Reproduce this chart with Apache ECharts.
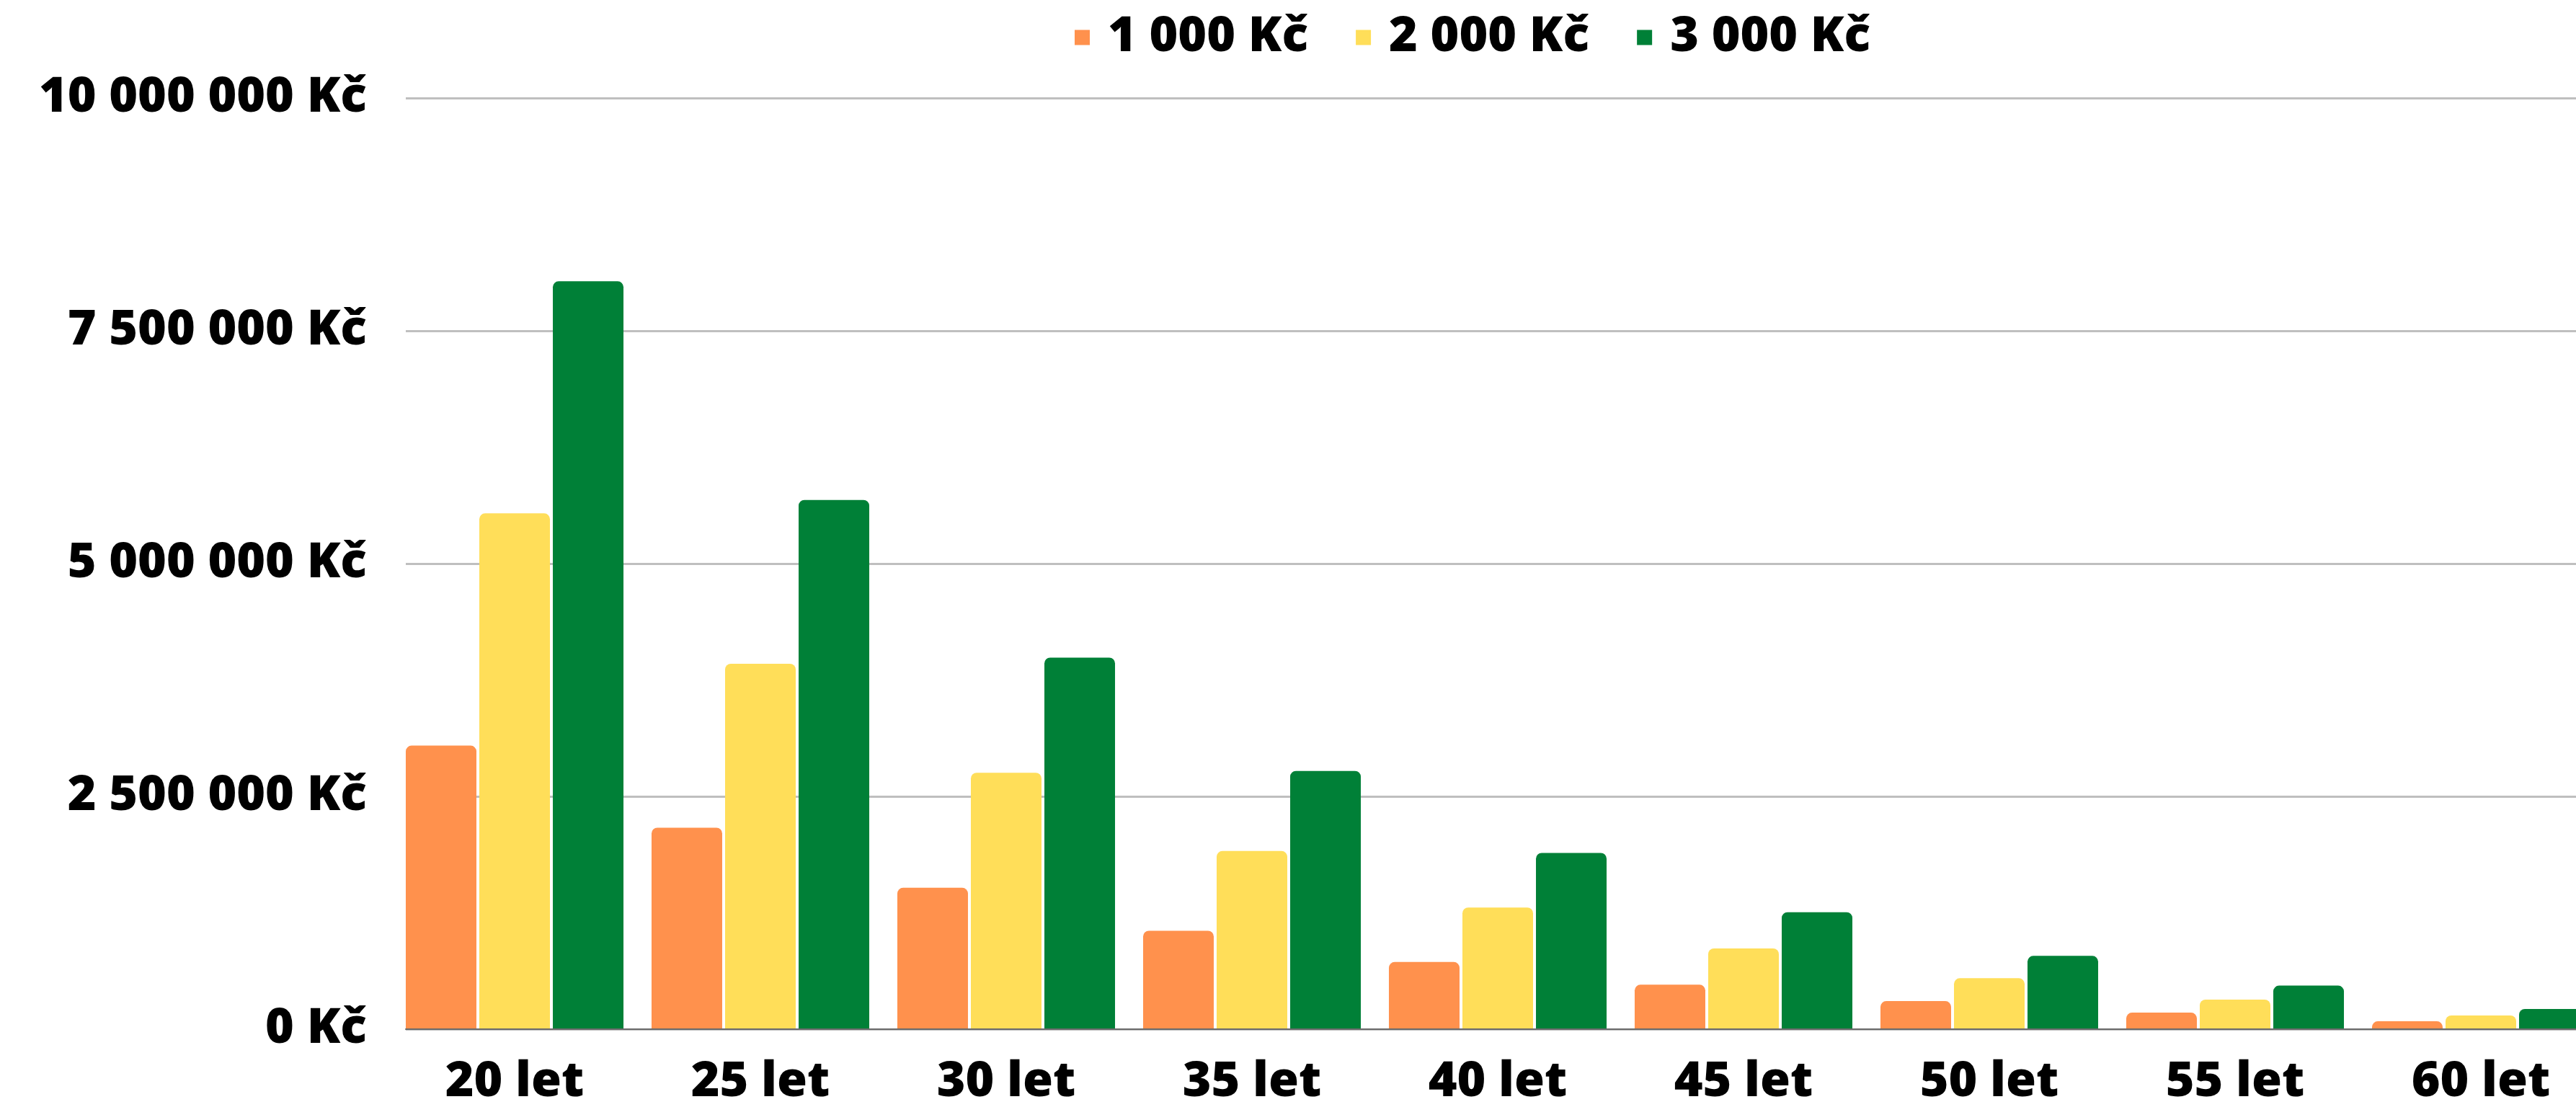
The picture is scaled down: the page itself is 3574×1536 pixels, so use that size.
<!DOCTYPE html>
<html>
<head>
<meta charset="utf-8">
<script src="https://cdn.jsdelivr.net/npm/echarts@6/dist/echarts.min.js"></script>
<style>
html,body{margin:0;padding:0;background:#fff;overflow:hidden;}
#chart{width:3700px;height:1536px;}
</style>
</head>
<body>
<div id="chart"></div>
<script>
var categories = ['20 let','25 let','30 let','35 let','40 let','45 let','50 let','55 let','60 let'];
var seriesNames = ['1 000 Kč','2 000 Kč','3 000 Kč'];
var values1000 = [3040000, 2157000, 1512000, 1050000, 714000, 470000, 294000, 170000, 77000];
var values2000 = [5536000, 3920000, 2748000, 1907000, 1300000, 860000, 540000, 310000, 140000];
var values3000 = [8030000, 5680000, 3986000, 2768000, 1886000, 1250000, 780000, 460000, 210000];
var yMin = 0, yMax = 10000000, yInterval = 2500000;

var colors = ['#FF914D','#FFDE59','#008037'];
var FONT = '"Open Sans", "DejaVu Sans", sans-serif';
var FS = 68;

function fmt(v){
  return String(v).replace(/\B(?=(\d{3})+(?!\d))/g, ' ') + ' Kč';
}

var chart = echarts.init(document.getElementById('chart'), null, {renderer:'canvas'});
var dataSets = [values1000, values2000, values3000];
var series = dataSets.map(function(d, i){
  return {
    name: seriesNames[i],
    type: 'bar',
    xAxisIndex: 0,
    yAxisIndex: 0,
    data: d,
    barWidth: 98,
    barGap: '4.1%',
    itemStyle: {color: colors[i], borderRadius: [8,8,0,0]},
    emphasis: {disabled: true},
    z: 3
  };
});

chart.setOption({
  animation: false,
  backgroundColor: '#ffffff',
  color: colors,
  legend: {
    data: seriesNames,
    left: 1491,
    top: 18,
    padding: 0,
    icon: 'rect',
    itemWidth: 21,
    itemHeight: 21,
    itemGap: 66,
    selectedMode: false,
    textStyle: {
      fontFamily: FONT, fontWeight: 800, fontSize: FS, color: '#000',
      lineHeight: 68, padding: [0,0,0,20]
    }
  },
  grid: [
    {left: 543.5, top: 136, width: 3069, height: 1292, containLabel: false},
    {left: 563, top: 136, width: 3130, height: 1292, containLabel: false}
  ],
  xAxis: [
    {
      type: 'category', gridIndex: 0, data: categories,
      boundaryGap: true,
      axisLine: {show: false}, axisTick: {show: false}, splitLine: {show: false},
      axisLabel: {
        interval: 0, margin: 41,
        fontFamily: FONT, fontWeight: 800, fontSize: FS, color: '#000'
      }
    },
    {
      type: 'category', gridIndex: 1, data: [''],
      axisLine: {show: true, lineStyle: {color: '#6b6b6b', width: 2}},
      axisTick: {show: false}, axisLabel: {show: false}, splitLine: {show: false},
      z: 1
    }
  ],
  yAxis: [
    {type: 'value', gridIndex: 0, min: yMin, max: yMax, interval: yInterval, show: false, splitLine: {show: false}},
    {
      type: 'value', gridIndex: 1, min: yMin, max: yMax, interval: yInterval,
      axisLine: {show: false}, axisTick: {show: false},
      splitLine: {show: true, lineStyle: {color: '#bfbfbf', width: 3}},
      axisLabel: {
        margin: 54, formatter: fmt,
        fontFamily: FONT, fontWeight: 800, fontSize: FS, color: '#000'
      },
      z: 0
    }
  ],
  series: series
});
</script>
</body>
</html>
